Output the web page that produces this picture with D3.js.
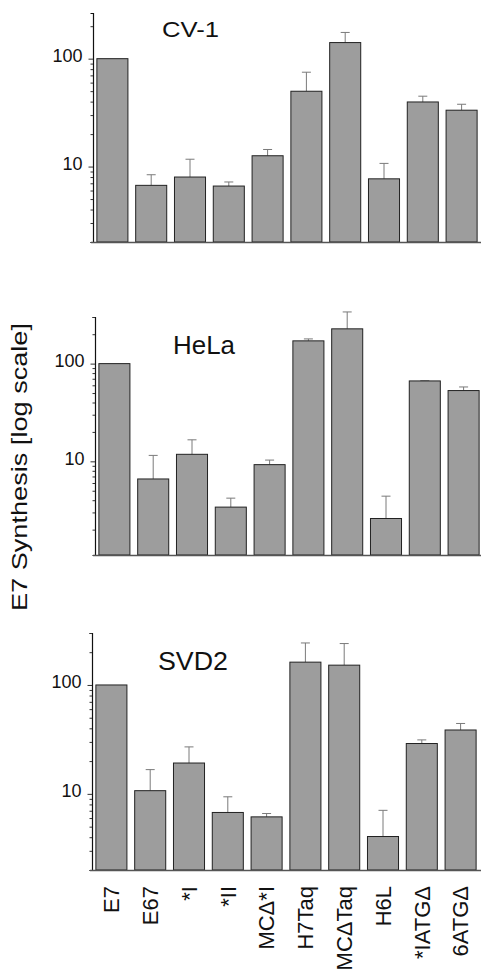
<!DOCTYPE html>
<html>
<head>
<meta charset="utf-8">
<script src="https://cdn.jsdelivr.net/npm/d3@7"></script>
<style>
    body { margin: 0; background: #fff; }
    svg { display: block; }
    text { font-family: "Liberation Sans", Arial, sans-serif; fill: #111; }
</style>
</head>
<body>
<div id="chart"></div>
<script>
// constructs on the x axis (same for every cell line)
var constructs = ["E7", "E67", "*I", "*II", "MC\u0394*I", "H7Taq", "MC\u0394Taq", "H6L", "*IATG\u0394", "6ATG\u0394"];

// E7 synthesis, relative to E7 = 100, and upper error (sd)
var cv1Values = [100, 6.7, 8.0, 6.6, 12.6, 49.9, 141, 7.7, 39.7, 33.3];
var cv1Errors = [0, 1.7, 3.7, 0.6, 1.8, 25, 34, 3.0, 5.2, 4.5];

var helaValues = [100, 6.6, 11.8, 3.4, 9.25, 171, 227, 2.6, 66.5, 53];
var helaErrors = [0, 4.9, 4.8, 0.8, 1.05, 8, 111, 1.8, 0.3, 4.7];

var svd2Values = [100, 10.7, 19.2, 6.75, 6.15, 162, 152, 4.06, 29, 38.6];
var svd2Errors = [0, 6.0, 7.8, 2.65, 0.45, 81, 88, 3.0, 2.3, 5.7];

var majorTicks = [10, 100];

var width = 481;
var height = 974;

var svg = d3.select("#chart")
    .append("svg")
    .attr("width", width)
    .attr("height", height);

/*
PANELS
*/
var panels = [
    { name: "CV-1", values: cv1Values, errors: cv1Errors, domain: [2, 265],
      left: 93, top: 13, bottom: 242, titleX: 162, titleY: 37, titleSize: 22, titleLen: 57 },
    { name: "HeLa", values: helaValues, errors: helaErrors, domain: [1.1, 300],
      left: 95, top: 317, bottom: 555, titleX: 173, titleY: 354, titleSize: 26, titleLen: 62 },
    { name: "SVD2", values: svd2Values, errors: svd2Errors, domain: [2, 300],
      left: 92, top: 633, bottom: 870, titleX: 158, titleY: 670, titleSize: 25, titleLen: 70 }
];

var lastX;

panels.forEach(function(p) {
    var g = svg.append("g");

    var xScale = d3.scaleBand()
        .domain(constructs)
        .range([p.left, p.left + 388])
        .paddingInner(0.2)
        .paddingOuter(0.1);

    var yScale = d3.scaleLog()
        .domain(p.domain)
        .range([p.bottom, p.top]);

    lastX = xScale;

    var data = constructs.map(function(c, i) {
        return { name: c, value: p.values[i], err: p.errors[i] };
    });

    // error bars (upper whisker only), drawn under bars
    var errs = g.selectAll(".err")
        .data(data.filter(function(d) { return d.err > 0; }))
        .enter()
        .append("g")
        .attr("class", "err")
        .attr("stroke", "#7a7a7a")
        .attr("stroke-width", 1);

    errs.append("line")
        .attr("x1", function(d) { return xScale(d.name) + xScale.bandwidth() / 2; })
        .attr("x2", function(d) { return xScale(d.name) + xScale.bandwidth() / 2; })
        .attr("y1", function(d) { return yScale(d.value); })
        .attr("y2", function(d) { return yScale(d.value + d.err); });

    errs.append("line")
        .attr("x1", function(d) { return xScale(d.name) + xScale.bandwidth() / 2 - 4.5; })
        .attr("x2", function(d) { return xScale(d.name) + xScale.bandwidth() / 2 + 4.5; })
        .attr("y1", function(d) { return yScale(d.value + d.err); })
        .attr("y2", function(d) { return yScale(d.value + d.err); });

    g.selectAll(".bar")
        .data(data)
        .enter()
        .append("rect")
        .attr("class", "bar")
        .attr("x", function(d) { return xScale(d.name); })
        .attr("y", function(d) { return yScale(d.value); })
        .attr("width", xScale.bandwidth())
        .attr("height", function(d) { return p.bottom - yScale(d.value); })
        .attr("fill", "#9d9d9d")
        .attr("stroke", "#222")
        .attr("stroke-width", 1);

    // y axis with minor ticks
    var yAxis = g.append("g")
        .attr("transform", "translate(" + p.left + ",0)")
        .call(d3.axisLeft(yScale)
            .tickValues(yScale.ticks())
            .tickSize(2.5)
            .tickPadding(8)
            .tickFormat(function(d) { return majorTicks.indexOf(d) >= 0 ? d : ""; }));

    yAxis.select(".domain").attr("stroke", "#111").attr("stroke-width", 1.2);
    yAxis.selectAll(".tick line").attr("stroke", "#333");
    yAxis.selectAll(".tick")
        .filter(function(d) { return majorTicks.indexOf(d) >= 0; })
        .select("line").attr("x2", -4.5);
    yAxis.selectAll(".tick text")
        .attr("font-size", 18)
        .attr("dy", "0.15em")
        .attr("font-family", "Liberation Sans, Arial, sans-serif")
        .attr("fill", "#111");

    // baseline
    g.append("line")
        .attr("x1", p.left - 2)
        .attr("x2", width)
        .attr("y1", p.bottom + 0.5)
        .attr("y2", p.bottom + 0.5)
        .attr("stroke", "#555")
        .attr("stroke-width", 1.5);

    g.append("text")
        .attr("x", p.titleX)
        .attr("y", p.titleY)
        .attr("font-size", p.titleSize)
        .attr("textLength", p.titleLen)
        .attr("lengthAdjust", "spacingAndGlyphs")
        .text(p.name);
});

/*
X LABELS (under the bottom panel)
*/
svg.selectAll(".xlabel")
    .data(constructs)
    .enter()
    .append("text")
    .attr("class", "xlabel")
    .attr("transform", function(d) {
        return "translate(" + (lastX(d) + lastX.bandwidth() / 2) + ",886) rotate(-90)";
    })
    .attr("text-anchor", "end")
    .attr("dy", "0.35em")
    .attr("font-size", 22)
    .text(function(d) { return d; });

/*
Y AXIS LABEL
*/
svg.append("text")
    .attr("transform", "translate(27,467) rotate(-90)")
    .attr("text-anchor", "middle")
    .attr("font-size", 22)
    .attr("textLength", 288)
    .attr("lengthAdjust", "spacingAndGlyphs")
    .text("E7 Synthesis [log scale]");
</script>
</body>
</html>
